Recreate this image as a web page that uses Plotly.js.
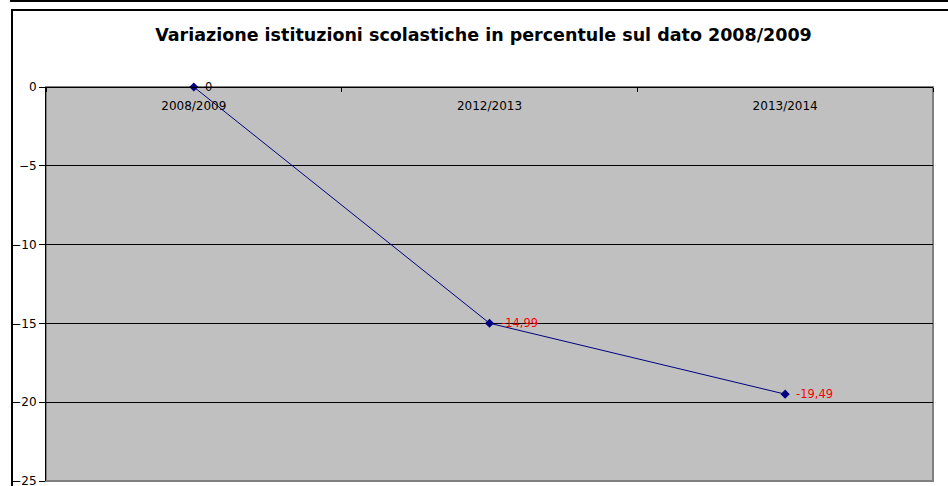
<!DOCTYPE html>
<html>
<head>
<meta charset="utf-8">
<script src="https://cdn.plot.ly/plotly-3.0.1.min.js"></script>
<style>
  html, body { margin: 0; padding: 0; background: #fff; }
  #wrap { position: relative; width: 948px; height: 486px; overflow: hidden; }
  #topline { position: absolute; left: 10px; top: 0; width: 938px; height: 2px; background: #000; }
  #frame { position: absolute; left: 11px; top: 9px; width: 940px; height: 480px;
           border-left: 2px solid #000; border-top: 2px solid #000; box-sizing: border-box; }
  #chart { position: absolute; left: 0; top: 0; width: 948px; height: 486px; }
</style>
</head>
<body>
<div id="wrap">
  <div id="topline"></div>
  <div id="frame"></div>
  <div id="chart"></div>
</div>
<script>
// anni scolastici e variazione % rispetto al 2008/2009
const years = ['2008/2009', '2012/2013', '2013/2014'];
const variation = [0, -14.99, -19.49];
const labelColors = ['#000000', '#ff0000', '#ff0000'];

const FONT = 'DejaVu Sans, Verdana, sans-serif';
const fmt = (v) => (v === 0 ? '0' : v.toFixed(2).replace('.', ','));

const trace = {
  x: years, y: variation,
  type: 'scatter', mode: 'lines+markers',
  line: { color: '#000080', width: 1 },
  marker: { symbol: 'diamond', size: 7, color: '#000080' },
  cliponaxis: false,
  hoverinfo: 'skip',
};

// etichette dati a destra dei punti
const labels = years.map((yr, i) => ({
  x: yr, y: variation[i], xref: 'x', yref: 'y',
  text: fmt(variation[i]), showarrow: false,
  xanchor: 'left', yanchor: 'middle', xshift: 9,
  font: { family: FONT, size: 11.5, color: labelColors[i] },
}));

Plotly.newPlot('chart', [trace], {
  width: 948, height: 486,
  paper_bgcolor: 'rgba(0,0,0,0)', plot_bgcolor: '#c0c0c0',
  font: { family: FONT, size: 12, color: '#000' },
  margin: { l: 46, r: 15, t: 87, b: 5 },
  showlegend: false,
  title: {
    text: 'Variazione istituzioni scolastiche in percentule sul dato 2008/2009',
    font: { family: FONT, size: 17.5, weight: 'bold', color: '#000' },
    x: 0.51, xanchor: 'center', y: 0.928, yanchor: 'middle',
  },
  xaxis: {
    type: 'category', range: [-0.5, 2.5],
    anchor: 'free', position: 1, side: 'bottom',
    showgrid: false, zeroline: false,
    showline: true, linecolor: '#000', linewidth: 1,
    ticks: 'outside', ticklen: 4, tickcolor: '#000', tickson: 'boundaries',
    ticklabelstandoff: 8,
    tickfont: { size: 12, color: '#000' },
  },
  yaxis: {
    range: [-25, 0], dtick: 5, tick0: 0,
    showgrid: true, gridcolor: '#000', gridwidth: 1,
    zeroline: false,
    showline: true, linecolor: '#000', linewidth: 1,
    ticks: 'outside', ticklen: 6, tickcolor: '#000',
    ticklabeloverflow: 'allow',
    tickfont: { size: 12, color: '#000' },
  },
  annotations: labels,
  shapes: [{
    type: 'rect', xref: 'paper', yref: 'paper', x0: 0, x1: 1, y0: 0, y1: 1,
    line: { color: '#808080', width: 2 }, layer: 'below',
  }],
}, { displayModeBar: false, staticPlot: true });
</script>
</body>
</html>
